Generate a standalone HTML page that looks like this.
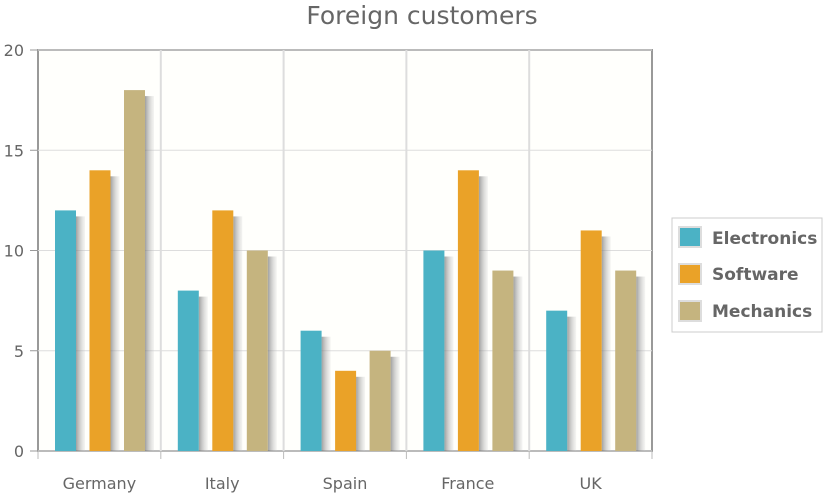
<!DOCTYPE html>
<html><head><meta charset="utf-8"><style>
body{margin:0;background:#fff;}
svg text{font-family:"DejaVu Sans","Liberation Sans",sans-serif;fill:#666;}
</style></head><body>
<svg id="c" width="825" height="495">
<defs><linearGradient id="sh" x1="0" x2="1"><stop offset="0" stop-color="#777" stop-opacity="0.7"/><stop offset="1" stop-color="#ccc" stop-opacity="0.2"/></linearGradient></defs>
<text x="422" y="24" text-anchor="middle" font-size="25">Foreign customers</text>
<rect x="38" y="50" width="614" height="401" fill="#fffffc" stroke="#999" stroke-width="2"/>
<g id="grid"></g><g id="bars"></g><g id="axes"></g>
<g>
<rect x="672" y="218" width="150" height="114" fill="#fff" stroke="#ccc"/>
<g><rect x="679" y="227" width="22" height="20" fill="#4BB2C5" stroke="#ddd" stroke-width="2"/><text x="712" y="244" font-size="17" font-weight="bold">Electronics</text></g>
<g><rect x="679" y="264" width="22" height="20" fill="#EAA228" stroke="#ddd" stroke-width="2"/><text x="712" y="280" font-size="17" font-weight="bold">Software</text></g>
<g><rect x="679" y="301" width="22" height="20" fill="#C5B47F" stroke="#ddd" stroke-width="2"/><text x="712" y="317" font-size="17" font-weight="bold">Mechanics</text></g>
</g>
</svg>
<script>
const categories=["Germany","Italy","Spain","France","UK"];
const electronics=[12,8,6,10,7];
const software=[14,12,4,14,11];
const mechanics=[18,10,5,9,9];
const yTicks=[0,5,10,15,20];
const seriesNames=["electronics","software","mechanics"];
const colors=["#4BB2C5","#EAA228","#C5B47F"];
const X0=38,X1=652,Y0=451,Y1=50,YMAX=20;
const ns="http://www.w3.org/2000/svg";
const cw=(X1-X0)/categories.length;
const y=v=>Y0-(v/YMAX)*(Y0-Y1);
const xc=i=>X0+i*cw;
function mk(t,a,p){const e=document.createElementNS(ns,t);for(const k in a)e.setAttribute(k,a[k]);p.appendChild(e);return e;}
const grid=document.getElementById('grid'),bars=document.getElementById('bars'),axes=document.getElementById('axes');
yTicks.forEach(t=>{
 const l=mk('line',{x1:X0,x2:X1,y1:y(t),y2:y(t),stroke:'#ddd'},grid);
 
 
 mk('line',{x1:X0-8,x2:X0,y1:y(t),y2:y(t),stroke:'#999'},axes);
 const tx=mk('text',{x:X0-14,y:y(t)+6,'text-anchor':'end','font-size':16},axes);
 tx.textContent=t;
 
 
});
categories.forEach((c,i)=>{
 if(i>0){const l=mk('line',{x1:xc(i),x2:xc(i),y1:Y1,y2:Y0,stroke:'#ddd',"stroke-width":2},grid);
 
 }
 mk('line',{x1:xc(i),x2:xc(i),y1:Y0,y2:Y0+8,stroke:'#bbb'},axes);
 const tx=mk('text',{x:xc(i)+cw/2,y:Y0+38,'text-anchor':'middle','font-size':16},axes);
 tx.textContent=c;
 
 
 [electronics,software,mechanics].forEach((s,k)=>{
  const bx=xc(i)+17+k*34.5,bw=21,top=y(s[i]);
  mk('rect',{x:bx+bw,y:top+6,width:9,height:Y0-top-6,fill:'url(#sh)'},bars);
  const r=mk('rect',{x:bx,y:top,width:bw,height:Y0-top,fill:colors[k]},bars);
  
  
 });
});
mk('line',{x1:X1,x2:X1,y1:Y0,y2:Y0+8,stroke:'#bbb'},axes);
</script>
</body></html>
